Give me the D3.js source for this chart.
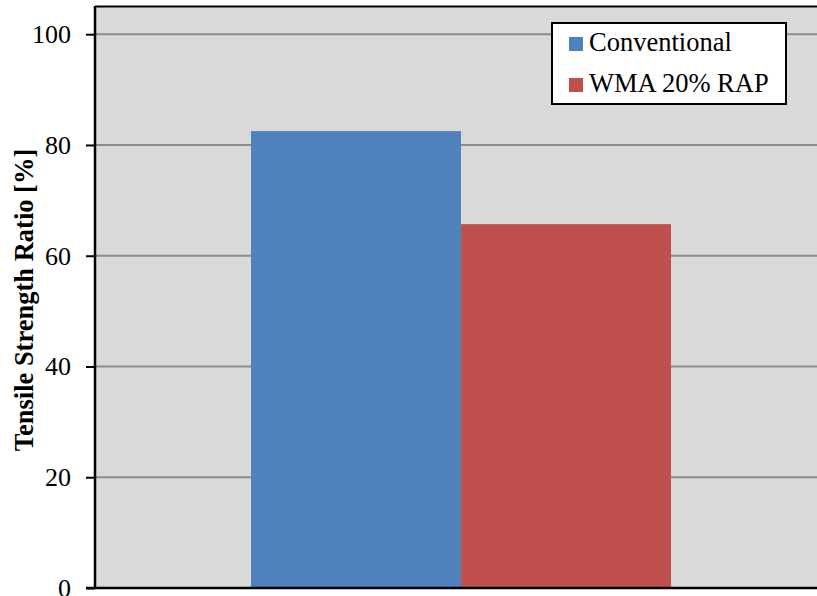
<!DOCTYPE html>
<html><head><meta charset="utf-8">
<script src="https://cdn.jsdelivr.net/npm/d3@7"></script>
<style>body{margin:0;background:#fff}svg{display:block}</style>
</head><body>
<svg id="c" width="817" height="596"></svg>
<script>
const categories = ["Sample"];
const seriesNames = ["Conventional", "WMA 20% RAP"];
const seriesValues = [82.5, 65.7];
const seriesColors = ["#4F81BD", "#C0504D"];
const yTicks = [0, 20, 40, 60, 80, 100];

const svg = d3.select("#c");
const m = {left: 95, top: 6, right: -10, bottom: 8};
const W = 817, H = 596;
const x0 = m.left, x1 = W - m.right, yTop = m.top;
const font = "'Liberation Serif','Times New Roman',serif";

const y = d3.scaleLinear().domain([0, 100]).range([588, 34.2]);
const xb = d3.scaleBand().domain(categories).range([x0, x1]).paddingInner(0).paddingOuter(0.3714);
const xs = d3.scaleBand().domain(seriesNames).range([0, xb.bandwidth()]);

svg.append("rect").attr("x", x0).attr("y", yTop).attr("width", x1 - x0).attr("height", y(0) - yTop).attr("fill", "#D9D9D9");

svg.append("g").selectAll("line").data(yTicks.filter(d => d > 0)).join("line")
  .attr("x1", x0).attr("x2", x1).attr("y1", d => y(d)).attr("y2", d => y(d))
  .attr("stroke", "#8C8C8C").attr("stroke-width", 2);

const g = svg.append("g").attr("transform", `translate(${xb(categories[0])},0)`);
g.selectAll("rect").data(seriesValues).join("rect")
  .attr("x", (d, i) => xs(seriesNames[i]))
  .attr("width", xs.bandwidth())
  .attr("y", d => y(d))
  .attr("height", d => y(0) - y(d))
  .attr("fill", (d, i) => seriesColors[i]);

svg.append("line").attr("x1", x0).attr("x2", x1).attr("y1", yTop + 0.5).attr("y2", yTop + 0.5).attr("stroke", "#000").attr("stroke-width", 2);

const ax = svg.append("g").attr("transform", `translate(${x0},0)`)
  .call(d3.axisLeft(y).tickValues(yTicks).tickSize(9).tickPadding(15).tickFormat(d3.format("d")));
ax.select(".domain").attr("d", `M0,${yTop}V${y(0)}`).attr("stroke", "#000").attr("stroke-width", 2.5);
ax.selectAll(".tick line").attr("stroke", "#000").attr("stroke-width", 2);
ax.selectAll(".tick text").attr("font-family", font).attr("font-size", 26).attr("fill", "#000");

svg.append("line").attr("x1", x0 - 9).attr("x2", x1).attr("y1", y(0)).attr("y2", y(0)).attr("stroke", "#000").attr("stroke-width", 2.5);

svg.append("text").attr("transform", `translate(33,300) rotate(-90)`)
  .attr("text-anchor", "middle").attr("font-family", font).attr("font-weight", "bold").attr("font-size", 26.5)
  .text("Tensile Strength Ratio [%]");

const lg = svg.append("g").attr("transform", "translate(552,23)");
lg.append("rect").attr("width", 234).attr("height", 81).attr("fill", "#fff").attr("stroke", "#000").attr("stroke-width", 2);
seriesNames.forEach((s, i) => {
  lg.append("rect").attr("x", 17).attr("y", 14 + i * 41).attr("width", 14).attr("height", 14).attr("fill", seriesColors[i]);
  lg.append("text").attr("x", 37).attr("y", 28 + i * 41).attr("font-family", font).attr("font-size", 26.5).attr("fill", "#000").text(s);
});
</script>
</body></html>
